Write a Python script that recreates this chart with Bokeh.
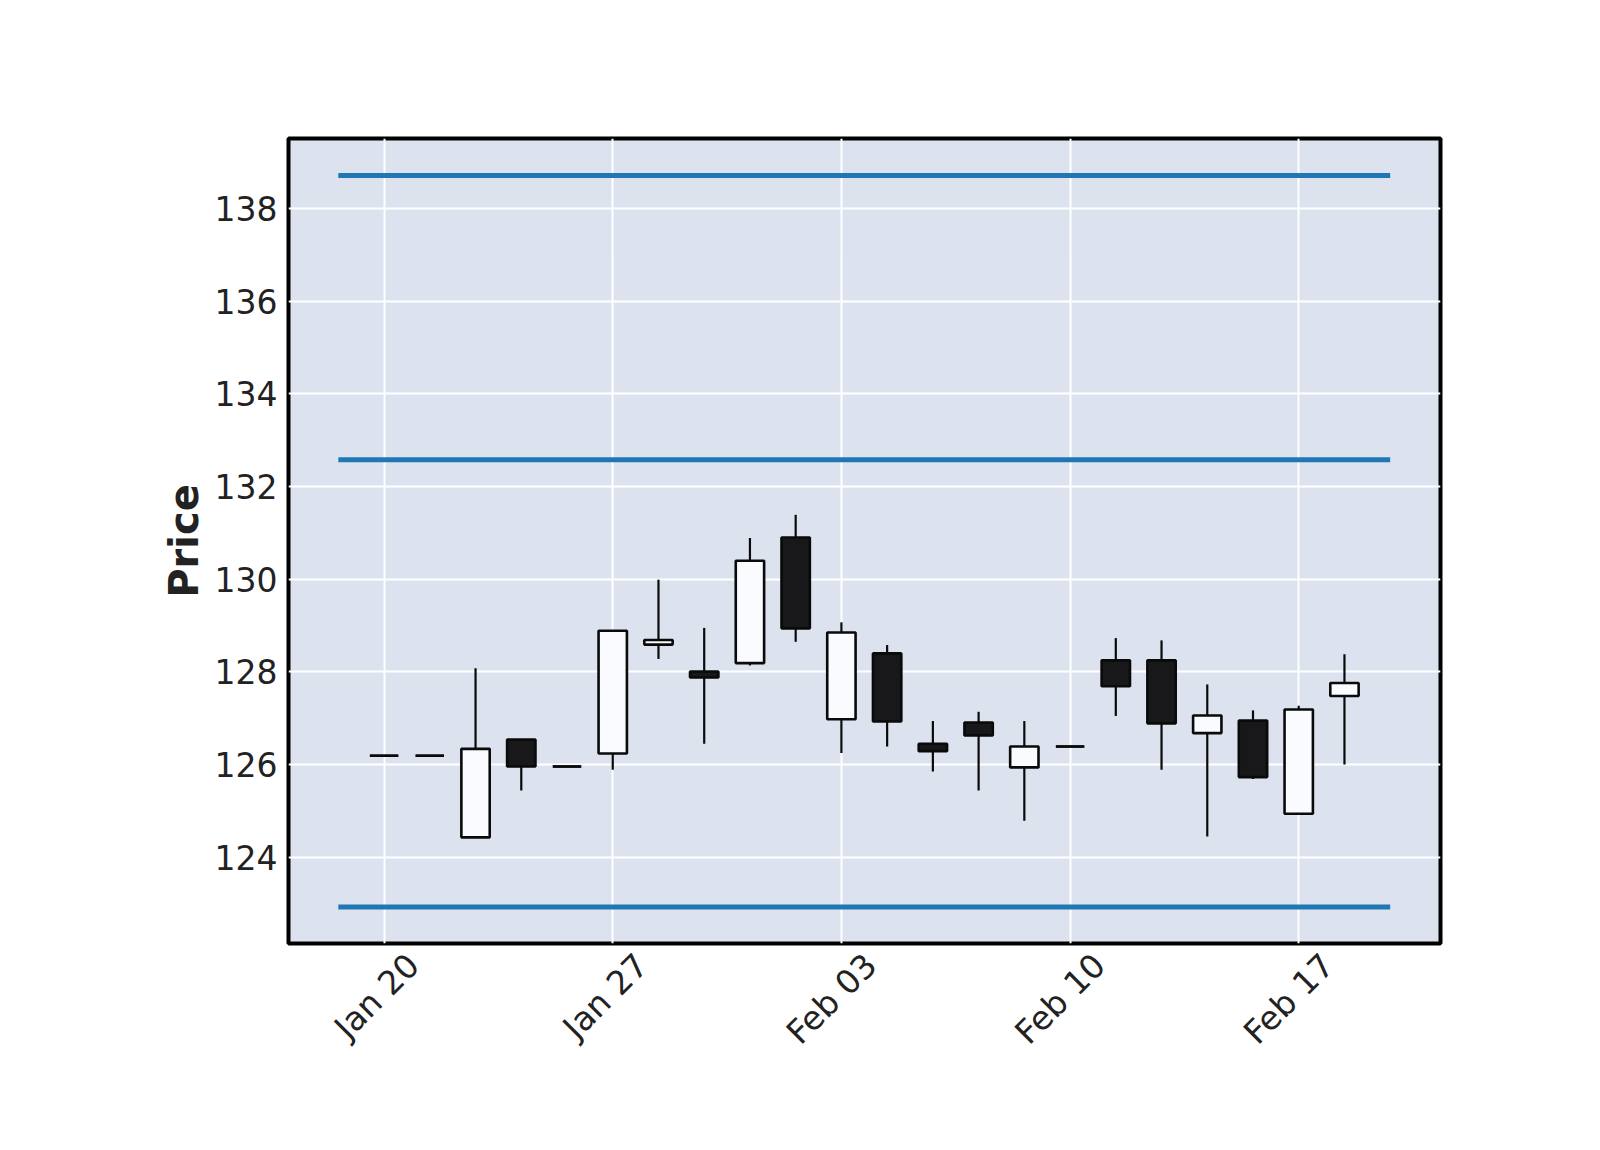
from math import pi
import numpy as np
from bokeh.plotting import figure
from bokeh.models import FixedTicker, ColumnDataSource, Range1d
from bokeh.embed import file_html
from bokeh.resources import INLINE

# ---- data ----
dates = ["Jan 20", "Jan 21", "Jan 22", "Jan 23", "Jan 24",
         "Jan 27", "Jan 28", "Jan 29", "Jan 30", "Jan 31",
         "Feb 03", "Feb 04", "Feb 05", "Feb 06", "Feb 07",
         "Feb 10", "Feb 11", "Feb 12", "Feb 13", "Feb 14",
         "Feb 17", "Feb 18"]
opens = [126.19, 126.19, 124.43, 126.54, 125.96,
         126.24, 128.59, 128.01, 128.19, 130.90,
         126.98, 128.40, 126.45, 126.91, 125.94,
         126.39, 128.25, 128.25, 126.68, 126.95,
         124.94, 127.48]
highs = [126.19, 126.19, 128.08, 126.54, 125.96,
         128.89, 129.99, 128.95, 130.89, 131.39,
         129.07, 128.58, 126.94, 127.14, 126.94,
         126.39, 128.73, 128.68, 127.73, 127.17,
         127.27, 128.38]
lows = [126.19, 126.19, 124.43, 125.44, 125.96,
        125.89, 128.28, 126.45, 128.14, 128.65,
        126.25, 126.39, 125.85, 125.44, 124.79,
        126.39, 127.05, 125.89, 124.45, 125.69,
        124.94, 126.00]
closes = [126.19, 126.19, 126.34, 125.96, 125.96,
          128.89, 128.69, 127.88, 130.40, 128.94,
          128.85, 126.93, 126.29, 126.63, 126.39,
          126.39, 127.69, 126.89, 127.06, 125.73,
          127.19, 127.76]
hline_levels = [138.71, 132.58, 122.93]
y_ticks = [124, 126, 128, 130, 132, 134, 136, 138]
x_tick_labels = ["Jan 20", "Jan 27", "Feb 03", "Feb 10", "Feb 17"]

# ---- derived ----
n = len(dates)
x = np.arange(n)
o = np.array(opens); c = np.array(closes)
up = c >= o
top = np.maximum(o, c)
bot = np.minimum(o, c)
BODY_W = 0.62
UP_FILL = "#FAFBFE"
DOWN_FILL = "#18181A"
EDGE = "#0A0A0A"
TEXT = "#222222"

src = ColumnDataSource(dict(
    x=x, high=highs, low=lows, top=top, bottom=bot,
    fill=[UP_FILL if u else DOWN_FILL for u in up],
))

doji = o == c
doji_src = ColumnDataSource(dict(
    x0=x[doji] - BODY_W / 2, x1=x[doji] + BODY_W / 2, y=o[doji],
))

y0, y1 = 122.14, 139.51
p = figure(width=1600, height=1150, output_backend="svg", toolbar_location=None,
           x_range=Range1d(-2.09, n + 1.1), y_range=Range1d(y0, y1),
           min_border_left=288, min_border_right=160,
           min_border_top=138, min_border_bottom=207)

p.background_fill_color = "#DCE3EF"
p.border_fill_color = "white"
p.outline_line_color = "black"
p.outline_line_width = 4

# grid
for g in (p.xgrid, p.ygrid):
    g.grid_line_color = "white"
    g.grid_line_width = 2

# horizontal lines
p.segment(x0=[-1] * len(hline_levels), x1=[n] * len(hline_levels),
          y0=hline_levels, y1=hline_levels, line_color="#1f77b4", line_width=5)

# wicks
p.segment(x0="x", y0="high", x1="x", y1="low", source=src,
          line_color=EDGE, line_width=2.2)
# bodies
p.vbar(x="x", width=BODY_W, top="top", bottom="bottom", source=src,
       fill_color="fill", line_color=EDGE, line_width=2.6)
# doji dashes
p.segment(x0="x0", x1="x1", y0="y", y1="y", source=doji_src,
          line_color=EDGE, line_width=2.4)

# axes
tick_pos = [dates.index(t) for t in x_tick_labels]
# rotated labels are centred under their tick (matplotlib style); Bokeh anchors
# the end of a rotated label at the tick, so the label positions are nudged.
LABEL_NUDGE = 0.64
label_pos = [t + LABEL_NUDGE for t in tick_pos]
p.xgrid.ticker = FixedTicker(ticks=tick_pos)
p.xaxis.ticker = FixedTicker(ticks=label_pos)
p.xaxis.major_label_overrides = {lp: lab for lp, lab in zip(label_pos, x_tick_labels)}
p.xaxis.major_label_orientation = pi / 4
p.xaxis.major_label_standoff = 10
p.yaxis.ticker = FixedTicker(ticks=y_ticks)
p.ygrid.ticker = FixedTicker(ticks=y_ticks)

for ax in (p.xaxis, p.yaxis):
    ax.axis_line_color = None
    ax.major_tick_line_color = None
    ax.minor_tick_line_color = None
    ax.major_label_text_font = "DejaVu Sans"
    ax.major_label_text_font_size = "33px"
    ax.major_label_text_color = TEXT

p.yaxis.major_label_standoff = 5
p.yaxis.axis_label = "Price"
p.yaxis.axis_label_text_font = "DejaVu Sans"
p.yaxis.axis_label_text_font_style = "bold"
p.yaxis.axis_label_text_font_size = "40px"
p.yaxis.axis_label_text_color = TEXT
p.yaxis.axis_label_standoff = 5

open("out.html", "w").write(file_html(p, INLINE))
